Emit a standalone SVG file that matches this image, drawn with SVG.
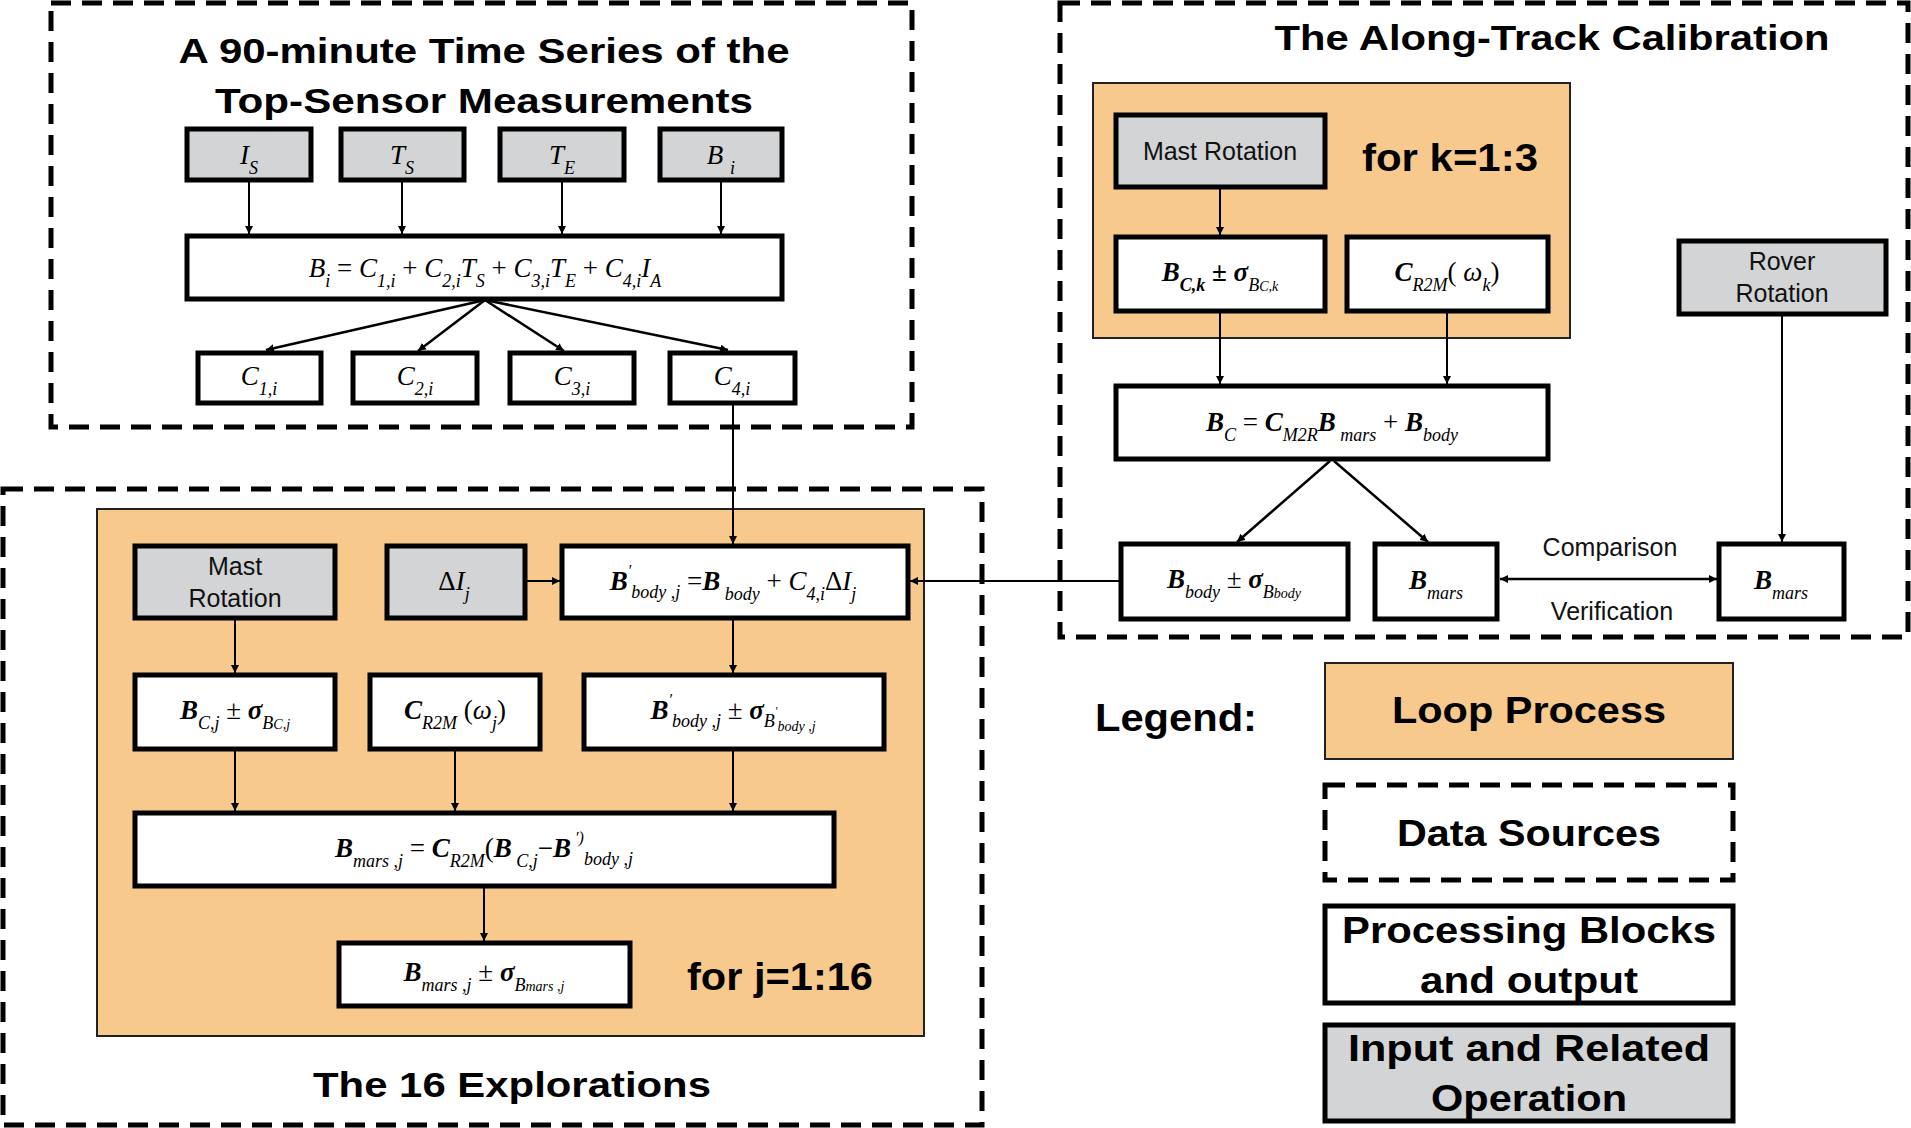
<svg xmlns="http://www.w3.org/2000/svg" width="1911" height="1128" viewBox="0 0 1911 1128">
<style>
.dash{fill:none;stroke:#000;stroke-width:5;stroke-dasharray:20 11}
.loop{fill:#F7C98D;stroke:#222;stroke-width:2}
.box{fill:#fff;stroke:#000;stroke-width:5}
.gray{fill:#D3D4D6;stroke:#000;stroke-width:5}
.ttl{font-family:"Liberation Sans",Arial,sans-serif;font-weight:bold;fill:#000}
.lbl{font-family:"Liberation Sans",Arial,sans-serif;font-size:25px;fill:#111;text-anchor:middle}
.m{font-family:"Liberation Serif","DejaVu Serif",serif;font-style:italic;font-size:27px;fill:#000;text-anchor:middle}
.b{font-weight:bold}
.s{font-size:18px;baseline-shift:sub}
.ln{stroke:#000;stroke-width:2;fill:none}
.lt{stroke:#000;stroke-width:2.5;fill:none}
</style>
<defs>
<marker id="ah" viewBox="0 0 10 10" refX="10" refY="5" markerWidth="8" markerHeight="8" markerUnits="userSpaceOnUse" orient="auto-start-reverse"><path d="M0,0 L10,5 L0,10 z" fill="#000"/></marker>
<marker id="ah2" viewBox="0 0 10 10" refX="10" refY="5" markerWidth="14" markerHeight="14" markerUnits="userSpaceOnUse" orient="auto-start-reverse"><path d="M0,1 L10,5 L0,9 z" fill="#000"/></marker>
</defs>

<g id="frame-top">
<rect class="dash" x="51" y="3" width="861" height="424"/>
<text class="ttl" x="484" y="63" font-size="35" text-anchor="middle" textLength="611" lengthAdjust="spacingAndGlyphs">A 90-minute Time Series of the</text>
<text class="ttl" x="484" y="113" font-size="35" text-anchor="middle" textLength="538" lengthAdjust="spacingAndGlyphs">Top-Sensor Measurements</text>
</g>
<g id="frame-right">
<rect class="dash" x="1060" y="3" width="848" height="634"/>
<text class="ttl" x="1552" y="50" font-size="35" text-anchor="middle" textLength="555" lengthAdjust="spacingAndGlyphs">The Along-Track Calibration</text>
</g>
<g id="frame-bottom">
<rect class="dash" x="3" y="489" width="979" height="636"/>
<text class="ttl" x="512" y="1097" font-size="35" text-anchor="middle" textLength="398" lengthAdjust="spacingAndGlyphs">The 16 Explorations</text>
</g>
<g id="loop-k"><rect class="loop" x="1093" y="83" width="477" height="255"/>
<text class="ttl" x="1450" y="171" font-size="38" text-anchor="middle" textLength="176" lengthAdjust="spacingAndGlyphs">for k=1:3</text></g>
<g id="loop-j"><rect class="loop" x="97" y="509" width="827" height="527"/>
<text class="ttl" x="780" y="990" font-size="38" text-anchor="middle" textLength="186" lengthAdjust="spacingAndGlyphs">for j=1:16</text></g>

<g id="IS"><rect class="gray" x="187" y="129" width="124" height="51"/><text class="m" x="249" y="164">I<tspan class="s">S</tspan></text></g>
<g id="TS"><rect class="gray" x="341" y="129" width="123" height="51"/><text class="m" x="402" y="164">T<tspan class="s">S</tspan></text></g>
<g id="TE"><rect class="gray" x="500" y="129" width="124" height="51"/><text class="m" x="562" y="164">T<tspan class="s">E</tspan></text></g>
<g id="Bi"><rect class="gray" x="660" y="129" width="122" height="51"/><text class="m" x="721" y="164">B <tspan class="s">i</tspan></text></g>
<g id="eq1"><rect class="box" x="187" y="236" width="595" height="63"/><text class="m" x="485" y="277">B<tspan class="s">i</tspan><tspan font-style="normal"> =  </tspan>C<tspan class="s">1,i</tspan><tspan font-style="normal"> +  </tspan>C<tspan class="s">2,i</tspan>T<tspan class="s">S</tspan><tspan font-style="normal"> + </tspan>C<tspan class="s">3,i</tspan>T<tspan class="s">E</tspan><tspan font-style="normal"> +  </tspan>C<tspan class="s">4,i</tspan>I<tspan class="s">A</tspan></text></g>
<g id="C1"><rect class="box" x="198" y="353" width="123" height="50"/><text class="m" x="259" y="385">C<tspan class="s">1,i</tspan></text></g>
<g id="C2"><rect class="box" x="353" y="353" width="124" height="50"/><text class="m" x="415" y="385">C<tspan class="s">2,i</tspan></text></g>
<g id="C3"><rect class="box" x="510" y="353" width="124" height="50"/><text class="m" x="572" y="385">C<tspan class="s">3,i</tspan></text></g>
<g id="C4"><rect class="box" x="670" y="353" width="125" height="50"/><text class="m" x="732" y="385">C<tspan class="s">4,i</tspan></text></g>

<g id="mast-k"><rect class="gray" x="1116" y="115" width="209" height="72"/><text class="lbl" x="1220" y="160">Mast Rotation</text></g>
<g id="BCk"><rect class="box" x="1116" y="237" width="209" height="74"/><text class="m b" x="1220" y="281">B<tspan class="s">C,k</tspan> ± σ<tspan class="s" font-weight="normal">B<tspan font-size="14">C,k</tspan></tspan></text></g>
<g id="CR2Mk"><rect class="box" x="1347" y="237" width="201" height="74"/><text class="m" x="1447" y="281"><tspan class="b">C</tspan><tspan class="s">R2M</tspan><tspan font-style="normal">( </tspan>ω<tspan class="s">k</tspan><tspan font-style="normal">)</tspan></text></g>
<g id="BC"><rect class="box" x="1116" y="386" width="432" height="73"/><text class="m" x="1332" y="431"><tspan class="b">B</tspan><tspan class="s">C</tspan><tspan font-style="normal"> =  </tspan><tspan class="b">C</tspan><tspan class="s">M2R</tspan><tspan class="b">B</tspan><tspan class="s"> mars</tspan><tspan font-style="normal"> +  </tspan><tspan class="b">B</tspan><tspan class="s">body</tspan></text></g>
<g id="rover"><rect class="gray" x="1679" y="241" width="207" height="73"/><text class="lbl" x="1782" y="270">Rover</text><text class="lbl" x="1782" y="302">Rotation</text></g>
<g id="Bbody"><rect class="box" x="1121" y="544" width="227" height="75"/><text class="m" x="1234" y="588"><tspan class="b">B</tspan><tspan class="s">body</tspan><tspan font-style="normal">  ± </tspan><tspan class="b">σ</tspan><tspan class="s">B<tspan font-size="14">body</tspan></tspan></text></g>
<g id="Bmars1"><rect class="box" x="1375" y="544" width="122" height="75"/><text class="m" x="1436" y="589"><tspan class="b">B</tspan><tspan class="s">mars</tspan></text></g>
<g id="Bmars2"><rect class="box" x="1719" y="544" width="125" height="75"/><text class="m" x="1781" y="589"><tspan class="b">B</tspan><tspan class="s">mars</tspan></text></g>

<g id="mast-j"><rect class="gray" x="135" y="546" width="200" height="72"/><text class="lbl" x="235" y="575">Mast</text><text class="lbl" x="235" y="607">Rotation</text></g>
<g id="dI"><rect class="gray" x="387" y="546" width="138" height="72"/><text class="m" x="454" y="590"><tspan font-style="normal">Δ</tspan>I<tspan class="s">j</tspan></text></g>
<g id="Bpbody"><rect class="box" x="562" y="546" width="346" height="72"/><text class="m" x="733" y="590"><tspan class="b">B</tspan><tspan font-size="16" dy="-14">′</tspan><tspan font-size="18" dy="22">body ,j</tspan><tspan dy="-8" font-style="normal"> =</tspan><tspan class="b">B</tspan><tspan class="s"> body</tspan><tspan font-style="normal">  +  </tspan>C<tspan class="s">4,i</tspan><tspan font-style="normal">Δ</tspan>I<tspan class="s">j</tspan></text></g>
<g id="BCj"><rect class="box" x="135" y="675" width="200" height="74"/><text class="m" x="235" y="719"><tspan class="b">B</tspan><tspan class="s">C,j</tspan><tspan font-style="normal"> ± </tspan><tspan class="b">σ</tspan><tspan class="s">B<tspan font-size="14">C,j</tspan></tspan></text></g>
<g id="CR2Mj"><rect class="box" x="370" y="675" width="170" height="74"/><text class="m" x="455" y="719"><tspan class="b">C</tspan><tspan class="s">R2M</tspan><tspan font-style="normal"> (</tspan>ω<tspan class="s">j</tspan><tspan font-style="normal">)</tspan></text></g>
<g id="Bpbodypm"><rect class="box" x="584" y="675" width="300" height="74"/><text class="m" x="733" y="719"><tspan class="b">B</tspan><tspan font-size="16" dy="-14">′</tspan><tspan font-size="18" dy="22">body ,j</tspan><tspan dy="-8" font-style="normal">  ±  </tspan><tspan class="b">σ</tspan><tspan font-size="18" dy="8">B</tspan><tspan font-size="12" dy="-12">′</tspan><tspan font-size="14" dy="16">body ,j</tspan></text></g>
<g id="Bmarsj"><rect class="box" x="135" y="813" width="699" height="73"/><text class="m" x="484" y="857"><tspan class="b">B</tspan><tspan class="s">mars ,j</tspan><tspan font-style="normal"> =  </tspan><tspan class="b">C</tspan><tspan class="s">R2M</tspan><tspan font-style="normal">(</tspan><tspan class="b">B</tspan><tspan class="s">  C,j</tspan><tspan font-style="normal">−</tspan><tspan class="b">B</tspan><tspan font-size="16" dy="-14">  ′)</tspan><tspan font-size="18" dy="22">body ,j</tspan></text></g>
<g id="Bmarsjpm"><rect class="box" x="339" y="943" width="291" height="63"/><text class="m" x="484" y="981"><tspan class="b">B</tspan><tspan class="s">mars ,j</tspan><tspan font-style="normal"> ± </tspan><tspan class="b">σ</tspan><tspan class="s">B<tspan font-size="14">mars ,j</tspan></tspan></text></g>

<g id="legend">
<text class="ttl" x="1176" y="731" font-size="38" text-anchor="middle" textLength="162" lengthAdjust="spacingAndGlyphs">Legend:</text>
<rect x="1325" y="663" width="408" height="96" fill="#F7C98D" stroke="#222" stroke-width="2"/>
<text class="ttl" x="1529" y="723" font-size="37" text-anchor="middle" textLength="274" lengthAdjust="spacingAndGlyphs">Loop Process</text>
<rect class="dash" x="1325" y="785" width="408" height="95"/>
<text class="ttl" x="1529" y="846" font-size="37" text-anchor="middle" textLength="264" lengthAdjust="spacingAndGlyphs">Data Sources</text>
<rect class="box" x="1325" y="906" width="408" height="97"/>
<text class="ttl" x="1529" y="943" font-size="37" text-anchor="middle" textLength="374" lengthAdjust="spacingAndGlyphs">Processing Blocks</text>
<text class="ttl" x="1529" y="993" font-size="37" text-anchor="middle" textLength="218" lengthAdjust="spacingAndGlyphs">and output</text>
<rect class="gray" x="1325" y="1025" width="408" height="96"/>
<text class="ttl" x="1529" y="1061" font-size="37" text-anchor="middle" textLength="362" lengthAdjust="spacingAndGlyphs">Input and Related</text>
<text class="ttl" x="1529" y="1111" font-size="37" text-anchor="middle" textLength="196" lengthAdjust="spacingAndGlyphs">Operation</text>
</g>

<g id="connectors">
<path class="ln" marker-end="url(#ah)" d="M249,182 V234"/>
<path class="ln" marker-end="url(#ah)" d="M402,182 V234"/>
<path class="ln" marker-end="url(#ah)" d="M562,182 V234"/>
<path class="ln" marker-end="url(#ah)" d="M721,182 V234"/>
<path class="lt" marker-end="url(#ah)" d="M485,300 L266,350"/>
<path class="lt" marker-end="url(#ah)" d="M485,300 L418,351"/>
<path class="lt" marker-end="url(#ah)" d="M485,300 L564,351"/>
<path class="lt" marker-end="url(#ah)" d="M485,300 L728,350"/>
<path class="ln" marker-end="url(#ah)" d="M733,405 V544"/>
<path class="ln" marker-end="url(#ah)" d="M1119,581 H910"/>
<path class="ln" marker-end="url(#ah)" d="M527,581 H560"/>
<path class="ln" marker-end="url(#ah)" d="M235,620 V673"/>
<path class="ln" marker-end="url(#ah)" d="M733,620 V673"/>
<path class="ln" marker-end="url(#ah)" d="M235,751 V811"/>
<path class="ln" marker-end="url(#ah)" d="M455,751 V811"/>
<path class="ln" marker-end="url(#ah)" d="M733,751 V811"/>
<path class="ln" marker-end="url(#ah)" d="M484,888 V941"/>
<path class="ln" marker-end="url(#ah)" d="M1220,189 V235"/>
<path class="ln" marker-end="url(#ah)" d="M1220,313 V384"/>
<path class="ln" marker-end="url(#ah)" d="M1447,313 V384"/>
<path class="lt" marker-end="url(#ah)" d="M1330,461 L1237,542"/>
<path class="lt" marker-end="url(#ah)" d="M1334,461 L1428,542"/>
<path class="ln" marker-end="url(#ah)" d="M1782,316 V542"/>
<path class="lt" marker-start="url(#ah)" marker-end="url(#ah)" d="M1500,579 H1717"/>
<text class="lbl" x="1610" y="556">Comparison</text>
<text class="lbl" x="1612" y="620">Verification</text>
</g>
</svg>
